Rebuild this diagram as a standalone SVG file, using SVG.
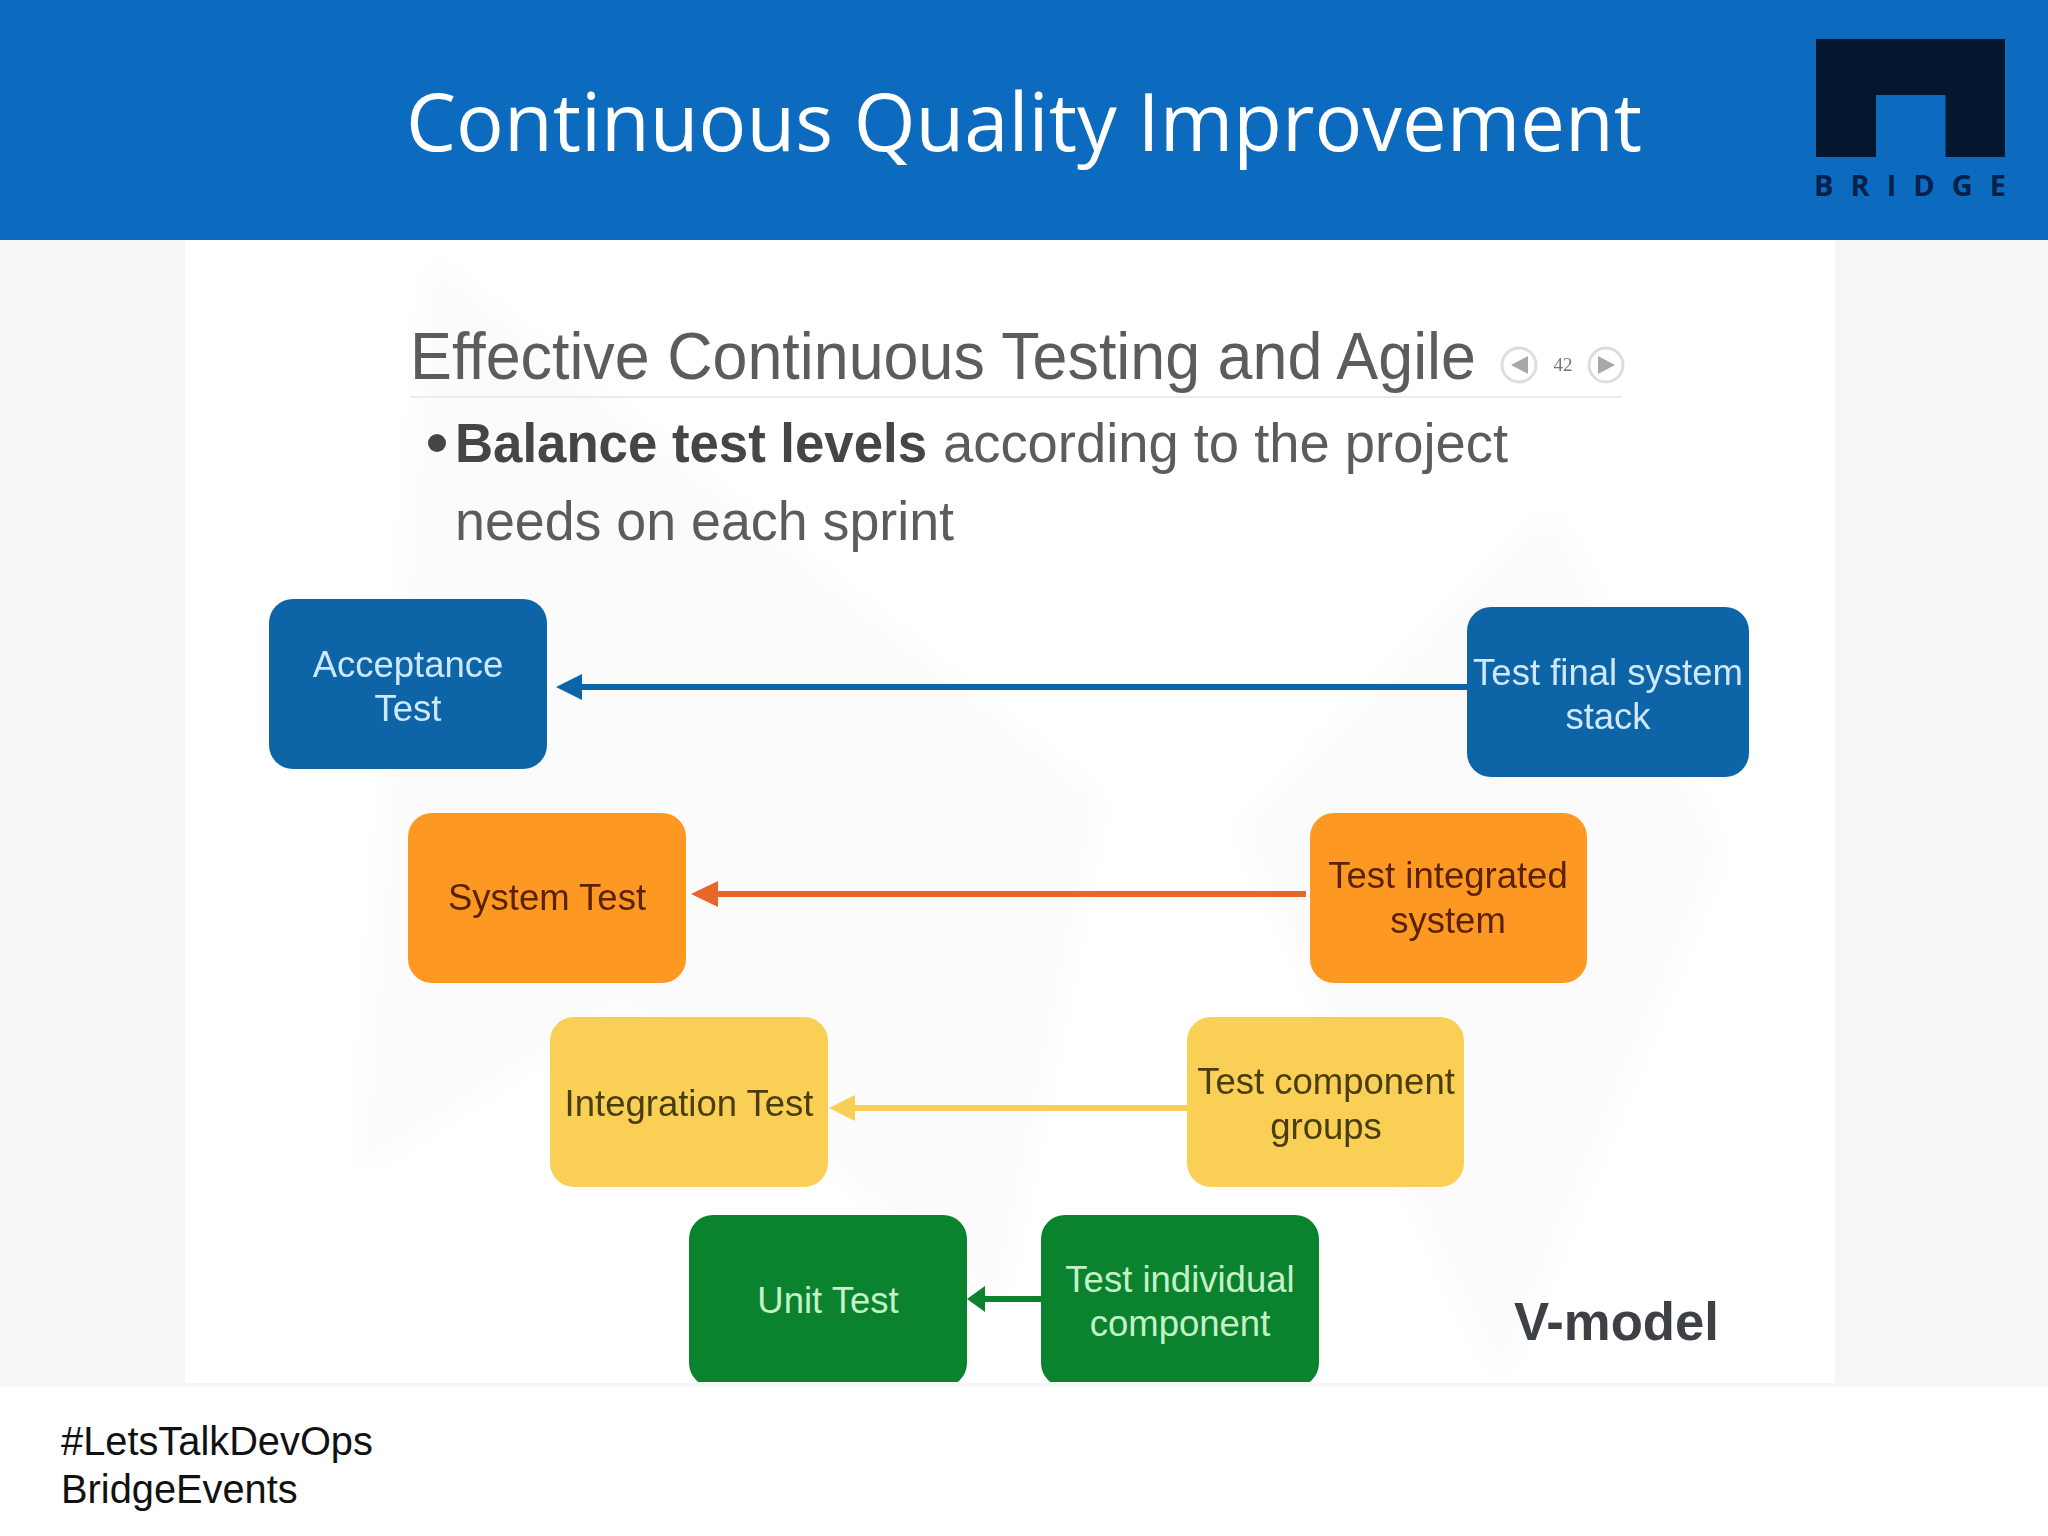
<svg xmlns="http://www.w3.org/2000/svg" width="2048" height="1536" viewBox="0 0 2048 1536">
<style>
.h{font-family:"Liberation Sans",Arial,sans-serif}
.n{font-family:"Liberation Sans",Arial,sans-serif;font-size:36.500px;text-anchor:middle}
.lb{fill:#cfe8f7}.dk{fill:#5a2200}.dy{fill:#4a3d10}.lg{fill:#c4f2c8}
.c{fill:none;stroke-width:6}
</style>
<defs>
<clipPath id="clip"><rect x="185" y="240" width="1650" height="1142"/></clipPath>
<filter id="soft" x="-5%" y="-5%" width="110%" height="110%"><feGaussianBlur stdDeviation="0.7"/></filter>
<filter id="wash" x="-10%" y="-10%" width="120%" height="120%"><feGaussianBlur stdDeviation="14"/></filter>
</defs>
<rect width="2048" height="1536" fill="#fff"/>
<rect y="240" width="2048" height="1147" fill="#f4f6f8"/>
<rect x="185" y="240" width="1650" height="1143" fill="#fff"/>
<g id="watermark" fill="#fcfbfc" filter="url(#wash)" clip-path="url(#clip)">
<polygon points="430,260 1100,800 1000,1300 620,1000 360,1170"/>
<polygon points="1550,510 1720,850 1500,1380 1240,830"/>
</g>
<rect id="header" width="2048" height="240" fill="#0c6abf"/>
<text x="406" y="151" font-family="'Open Sans',sans-serif" font-size="81" fill="#fff" textLength="1236" lengthAdjust="spacingAndGlyphs">Continuous Quality Improvement</text>
<g id="logo">
<path d="M1816 39H2005V157H1945.500V95H1876V157H1816Z" fill="#03172f"/>
<text x="1814" y="196" font-family="'Open Sans',sans-serif" font-weight="700" font-size="29" fill="#03214a" textLength="192">BRIDGE</text>
</g>
<g filter="url(#soft)">
<g id="slide-heading">
<text x="410" y="379" class="h" font-size="66" fill="#5c5c5c" textLength="1066" lengthAdjust="spacingAndGlyphs">Effective Continuous Testing and Agile</text>
<line x1="410" y1="397" x2="1622" y2="397" stroke="#ececec" stroke-width="2"/>
<g fill="#fff" stroke="#ddd" stroke-width="3"><circle cx="1519" cy="365" r="17"/><circle cx="1606" cy="365" r="17"/></g>
<path d="M1528 356V374L1511 365Z M1598 356V374L1615 365Z" fill="#a8a8a8"/>
<text x="1563" y="371" font-family="'Liberation Serif',serif" font-size="19" fill="#777" text-anchor="middle">42</text>
<circle cx="437" cy="443" r="9" fill="#444"/>
<text x="455" y="462" class="h" font-size="55" font-weight="700" fill="#444" textLength="472" lengthAdjust="spacingAndGlyphs">Balance test levels</text>
<text x="943" y="462" class="h" font-size="55" fill="#5c5c5c" textLength="565" lengthAdjust="spacingAndGlyphs">according to the project</text>
<text x="455" y="540" class="h" font-size="55" fill="#5c5c5c" textLength="499" lengthAdjust="spacingAndGlyphs">needs on each sprint</text>
</g>
<g id="connectors">
<path class="c" stroke="#0f65a8" d="M1467 687H572"/><path fill="#0f65a8" d="M556 687L582 674V700Z"/>
<path class="c" stroke="#e9662c" d="M1306 894H710"/><path fill="#e9662c" d="M691 894L718 881V907Z"/>
<path class="c" stroke="#f8cf55" d="M1187 1108H850"/><path fill="#f8cf55" d="M829 1108L855 1095V1121Z"/>
<path class="c" stroke="#0a822e" stroke-width="7" d="M1041 1299H975"/><path fill="#0a822e" d="M967 1299L985 1286V1312Z"/>
</g>
<g id="acceptance"><rect x="269" y="599" width="278" height="170" rx="24" fill="#0f65a8"/><text class="n lb" x="408" y="677">Acceptance</text><text class="n lb" x="408" y="721">Test</text></g>
<g id="final"><rect x="1467" y="607" width="282" height="170" rx="24" fill="#0f65a8"/><text class="n lb" x="1608" y="685">Test final system</text><text class="n lb" x="1608" y="729">stack</text></g>
<g id="system"><rect x="408" y="813" width="278" height="170" rx="24" fill="#fd9822"/><text class="n dk" x="547" y="910">System Test</text></g>
<g id="integrated"><rect x="1310" y="813" width="277" height="170" rx="24" fill="#fd9822"/><text class="n dk" x="1448" y="888">Test integrated</text><text class="n dk" x="1448" y="933">system</text></g>
<g id="integration"><rect x="550" y="1017" width="278" height="170" rx="24" fill="#f9cf55"/><text class="n dy" x="689" y="1116">Integration Test</text></g>
<g id="component"><rect x="1187" y="1017" width="277" height="170" rx="24" fill="#f9cf55"/><text class="n dy" x="1326" y="1094">Test component</text><text class="n dy" x="1326" y="1139">groups</text></g>
<text id="vmodel" x="1514" y="1340" class="h" font-size="53" font-weight="700" fill="#3c3f44" textLength="205" lengthAdjust="spacingAndGlyphs">V-model</text>
</g>
<g clip-path="url(#clip)">
<g id="unit"><rect x="689" y="1215" width="278" height="172" rx="24" fill="#0a822e"/><text class="n lg" x="828" y="1313">Unit Test</text></g>
<g id="individual"><rect x="1041" y="1215" width="278" height="172" rx="24" fill="#0a822e"/><text class="n lg" x="1180" y="1292">Test individual</text><text class="n lg" x="1180" y="1336">component</text></g>
</g>
<g id="footer" class="h" font-size="39.800" fill="#111"><text x="61" y="1455">#LetsTalkDevOps</text><text x="61" y="1503">BridgeEvents</text></g>
</svg>
